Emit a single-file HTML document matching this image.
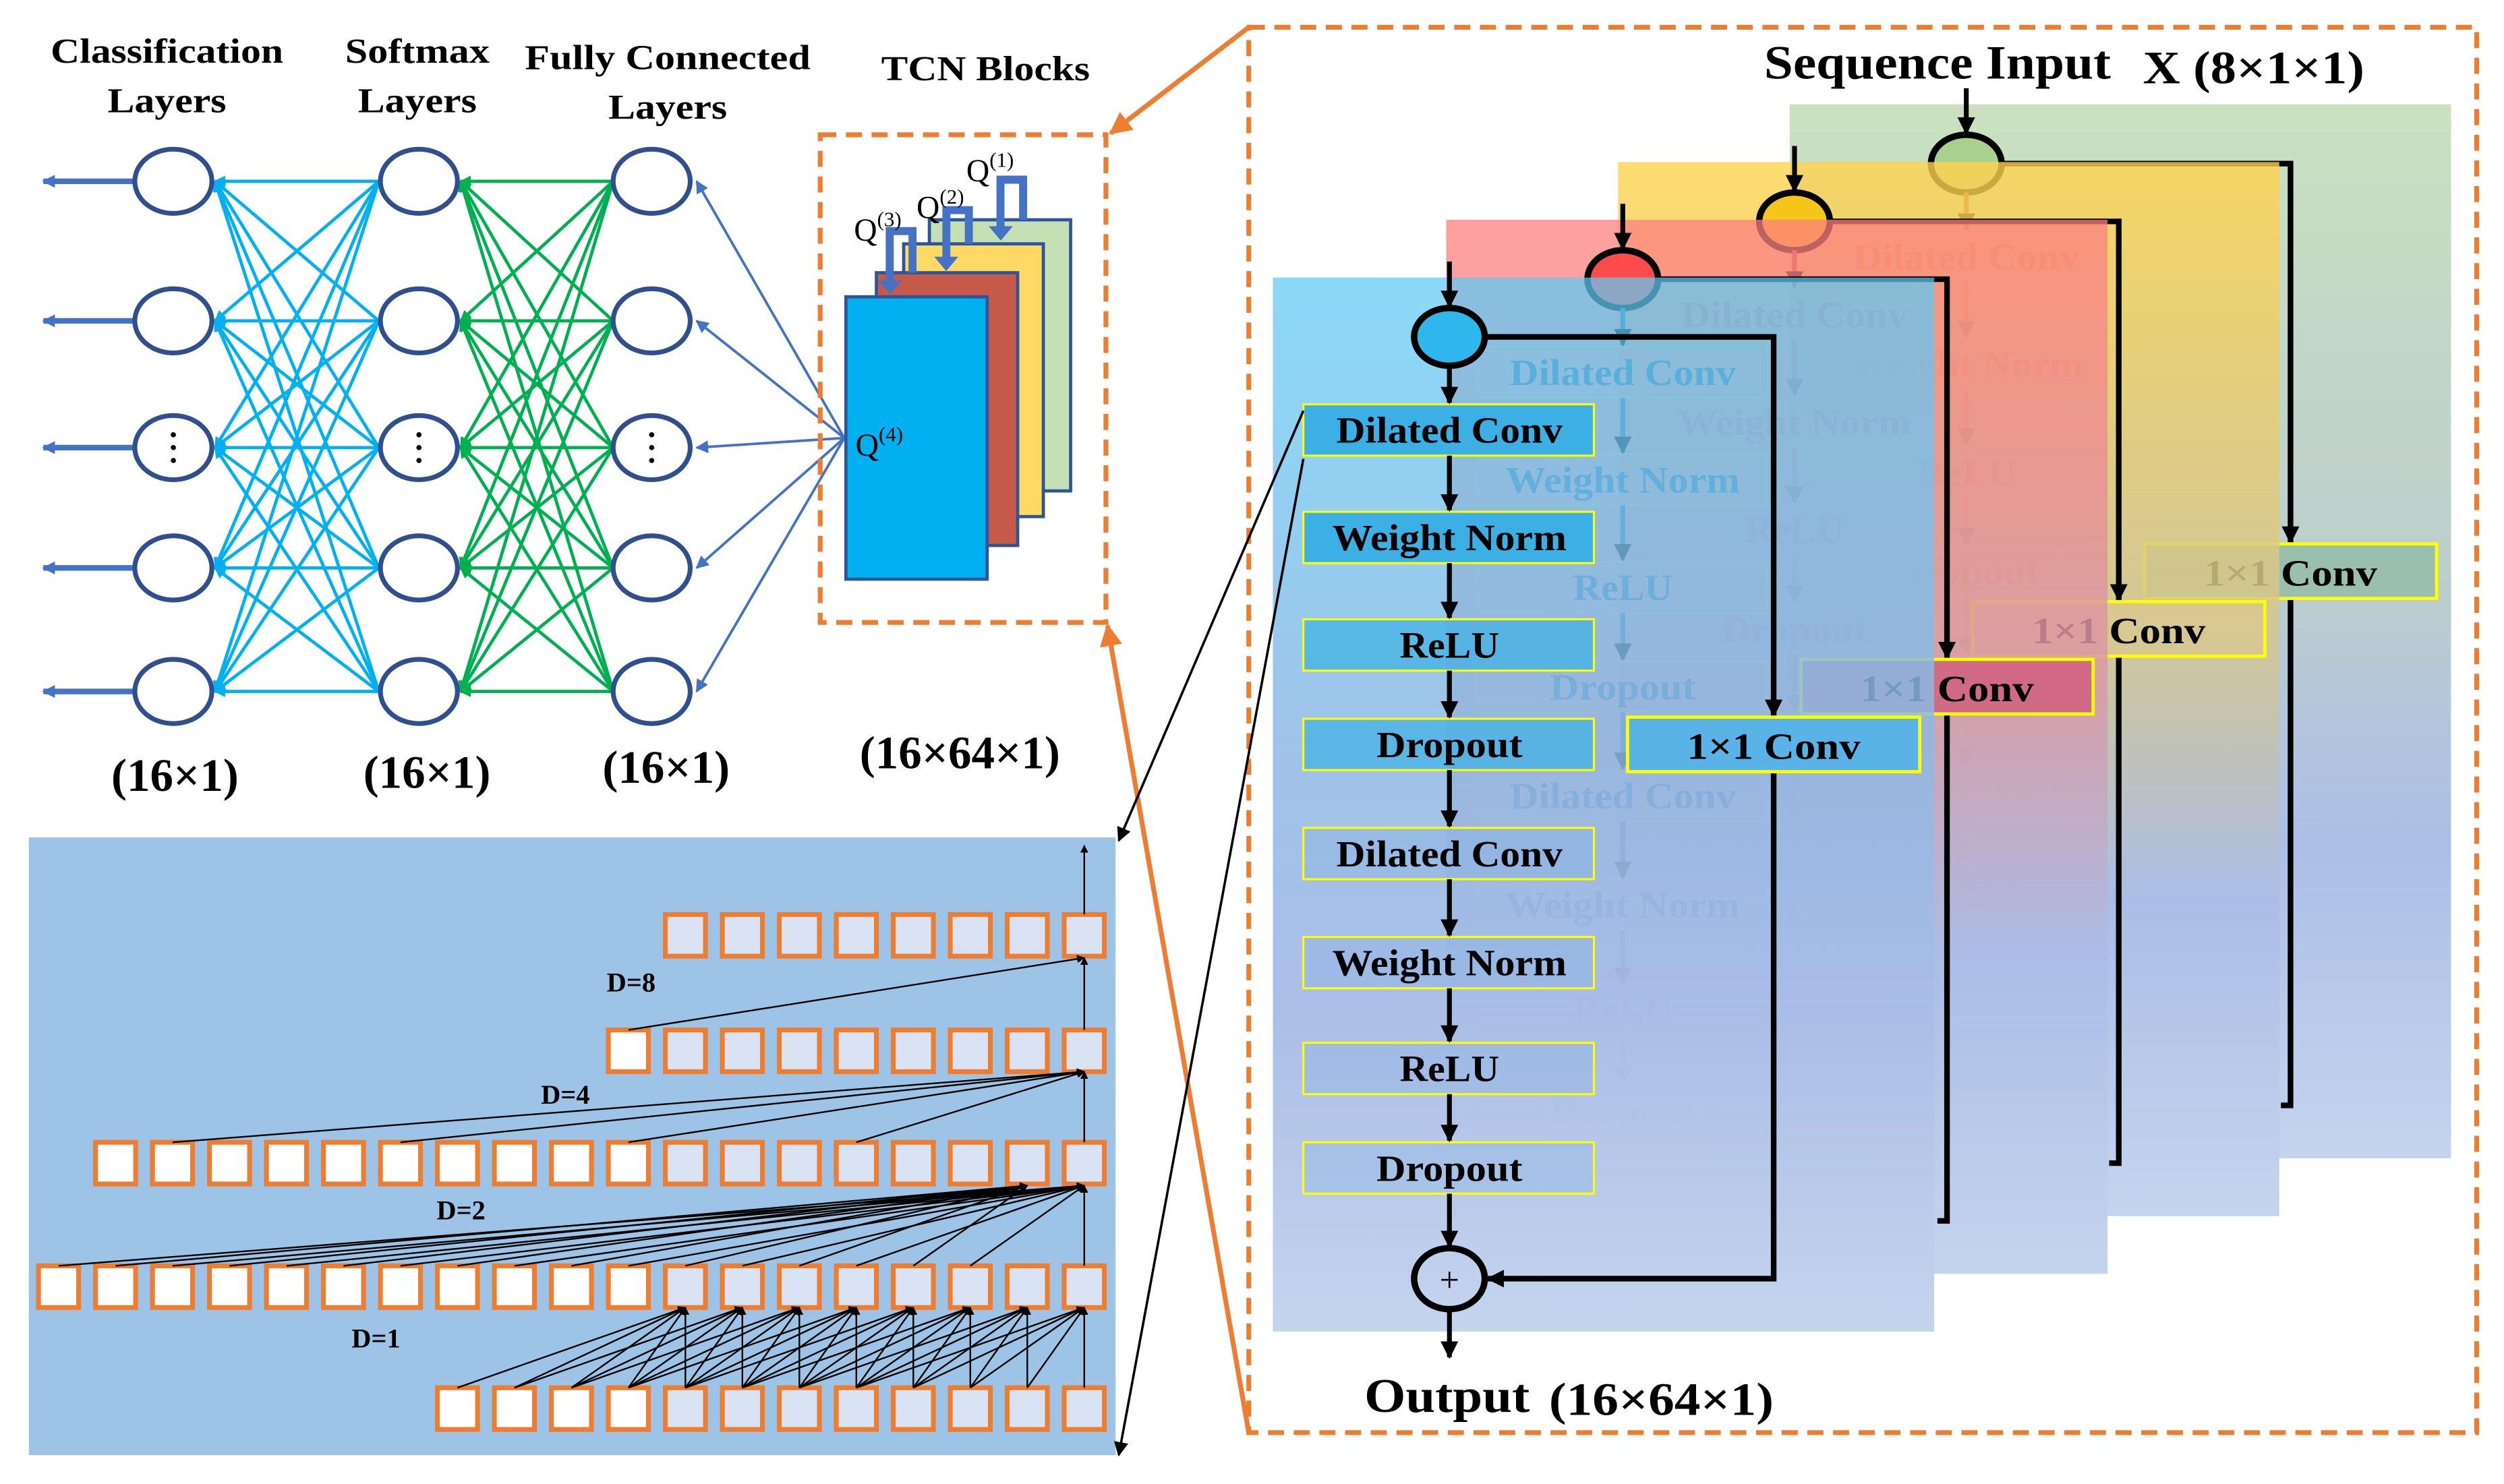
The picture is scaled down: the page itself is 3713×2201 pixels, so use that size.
<!DOCTYPE html>
<html><head><meta charset="utf-8">
<style>
html,body{margin:0;padding:0;background:#fff;}
svg{display:block;}
text{font-family:"Liberation Serif",serif;}
.b{font-weight:bold;}
</style></head>
<body>
<svg id="s" xmlns="http://www.w3.org/2000/svg" width="3713" height="2201" viewBox="0 0 1560 925" preserveAspectRatio="none">
<defs>
<marker id="ak" viewBox="0 0 10 10" refX="9" refY="5" markerWidth="5" markerHeight="5" orient="auto-start-reverse" markerUnits="userSpaceOnUse"><path d="M0,0L10,5L0,10z" fill="#000"/></marker>
<marker id="ak2" viewBox="0 0 10 10" refX="9" refY="5" markerWidth="11" markerHeight="11" orient="auto" markerUnits="userSpaceOnUse"><path d="M0,0L10,5L0,10z" fill="#000"/></marker>
<marker id="ak3" viewBox="0 0 10 10" refX="9" refY="5" markerWidth="9" markerHeight="9" orient="auto" markerUnits="userSpaceOnUse"><path d="M0,0L10,5L0,10z" fill="#000"/></marker>
<marker id="ac" viewBox="0 0 10 10" refX="9" refY="5" markerWidth="7" markerHeight="7" orient="auto" markerUnits="userSpaceOnUse"><path d="M0,0L10,5L0,10z" fill="#00b0f0"/></marker>
<marker id="ag" viewBox="0 0 10 10" refX="9" refY="5" markerWidth="7" markerHeight="7" orient="auto" markerUnits="userSpaceOnUse"><path d="M0,0L10,5L0,10z" fill="#00b050"/></marker>
<marker id="ab" viewBox="0 0 10 10" refX="9" refY="5" markerWidth="8" markerHeight="8" orient="auto" markerUnits="userSpaceOnUse"><path d="M0,0L10,5L0,10z" fill="#4472c4"/></marker>
<marker id="ao" viewBox="0 0 10 10" refX="9" refY="5" markerWidth="14" markerHeight="14" orient="auto" markerUnits="userSpaceOnUse"><path d="M0,0L10,5L0,10z" fill="#ed7d31"/></marker>
<linearGradient id="gB" x1="0" y1="0" x2="0" y2="1"><stop offset="0" stop-color="#5ecaf5" stop-opacity="0.72"/><stop offset="0.45" stop-color="#8fb8e4" stop-opacity="0.85"/><stop offset="0.7" stop-color="#aabde6" stop-opacity="0.98"/><stop offset="1" stop-color="#c5d4ee" stop-opacity="1"/></linearGradient>
<linearGradient id="gR" x1="0" y1="0" x2="0" y2="1"><stop offset="0" stop-color="#ff7f7f" stop-opacity="0.75"/><stop offset="0.45" stop-color="#d89aa8" stop-opacity="0.85"/><stop offset="0.7" stop-color="#aabde6" stop-opacity="0.98"/><stop offset="1" stop-color="#c5d4ee" stop-opacity="1"/></linearGradient>
<linearGradient id="gY" x1="0" y1="0" x2="0" y2="1"><stop offset="0" stop-color="#ffd34d" stop-opacity="0.8"/><stop offset="0.45" stop-color="#d4c690" stop-opacity="0.85"/><stop offset="0.7" stop-color="#aabde6" stop-opacity="0.98"/><stop offset="1" stop-color="#c5d4ee" stop-opacity="1"/></linearGradient>
<linearGradient id="gG" x1="0" y1="0" x2="0" y2="1"><stop offset="0" stop-color="#c7dfbd" stop-opacity="0.95"/><stop offset="0.45" stop-color="#b5c8c8" stop-opacity="0.9"/><stop offset="0.7" stop-color="#aabde6" stop-opacity="0.98"/><stop offset="1" stop-color="#c5d4ee" stop-opacity="1"/></linearGradient>
</defs>

<g class="b" font-size="22" text-anchor="middle" font-weight="bold">
<text x="104" y="39" textLength="145" lengthAdjust="spacingAndGlyphs">Classification</text><text x="104" y="70" textLength="74" lengthAdjust="spacingAndGlyphs">Layers</text>
<text x="260" y="39" textLength="90" lengthAdjust="spacingAndGlyphs">Softmax</text><text x="260" y="70" textLength="74" lengthAdjust="spacingAndGlyphs">Layers</text>
<text x="416" y="43" textLength="178" lengthAdjust="spacingAndGlyphs">Fully Connected</text><text x="416" y="74" textLength="74" lengthAdjust="spacingAndGlyphs">Layers</text>
<text x="614" y="50" textLength="130" lengthAdjust="spacingAndGlyphs">TCN Blocks</text>
</g>
<g font-size="29" text-anchor="middle" font-weight="bold">
<text x="109" y="493">(16×1)</text><text x="266" y="491">(16×1)</text><text x="415" y="488">(16×1)</text><text x="598" y="479">(16×64×1)</text>
</g>

<g id="nn"></g>

<rect x="511" y="84" width="178" height="304" fill="none" stroke="#ed7d31" stroke-width="3" stroke-dasharray="10,6"/>
<rect x="579" y="137" width="88" height="169" fill="#c5e0b4" stroke="#2f5597" stroke-width="2"/>
<rect x="563" y="152" width="87" height="170" fill="#ffd966" stroke="#2f5597" stroke-width="2"/>
<rect x="546" y="170" width="88" height="170" fill="#c55a4a" stroke="#2f5597" stroke-width="2"/>
<rect x="527" y="185" width="88" height="176" fill="#00b0f0" stroke="#2f5597" stroke-width="2"/>
<g fill="none" stroke="#4472c4" stroke-width="5">
<polyline points="568.5,170 568.5,144 554.3,144 554.3,176"/>
<polyline points="603.6,152 603.6,131 589.6,131 589.6,162"/>
<polyline points="637.4,137 637.4,112 623.3,112 623.3,143"/>
</g>
<g fill="#4472c4"><path d="M547,175h15l-7.5,8z"/><path d="M582,160h15l-7.5,9z"/><path d="M616,141h15l-7.5,9z"/></g>
<g font-size="20">
<text x="532" y="150">Q<tspan font-size="13" dy="-9">(3)</tspan></text>
<text x="571" y="136">Q<tspan font-size="13" dy="-9">(2)</tspan></text>
<text x="602" y="113">Q<tspan font-size="13" dy="-9">(1)</tspan></text>
<text x="533" y="284">Q<tspan font-size="13" dy="-9">(4)</tspan></text>
</g>

<line x1="778" y1="17" x2="692" y2="83" stroke="#ed7d31" stroke-width="3" marker-end="url(#ao)"/>
<line x1="778" y1="893" x2="690" y2="390" stroke="#ed7d31" stroke-width="3" marker-end="url(#ao)"/>

<rect x="18" y="522" width="677" height="385" fill="#9dc3e6"/>
<g id="cells"></g>
<g font-size="17" font-weight="bold"><text x="378" y="618">D=8</text><text x="337" y="688">D=4</text><text x="272" y="760">D=2</text><text x="219" y="840">D=1</text></g>

<rect x="778" y="17" width="765" height="876" fill="none" stroke="#ed7d31" stroke-width="3" stroke-dasharray="10,6"/>
<text x="1099" y="49" font-size="30" font-weight="bold" textLength="216" lengthAdjust="spacingAndGlyphs">Sequence Input</text>
<text x="1335" y="52" font-size="29" font-weight="bold" textLength="138" lengthAdjust="spacingAndGlyphs">X (8×1×1)</text>
<g id="blocks"></g>
<text x="850" y="880" font-size="30" font-weight="bold" textLength="103" lengthAdjust="spacingAndGlyphs">Output</text>
<text x="965" y="882" font-size="29" font-weight="bold" textLength="140" lengthAdjust="spacingAndGlyphs">(16×64×1)</text>

<line x1="812" y1="256" x2="697" y2="524" stroke="#000" stroke-width="1.5" marker-end="url(#ak3)"/>
<line x1="812" y1="286" x2="697" y2="907" stroke="#000" stroke-width="1.5" marker-end="url(#ak3)"/>
</svg>
<script>
var NS="http://www.w3.org/2000/svg";
function el(p,t,a,txt){var e=document.createElementNS(NS,t);for(var k in a)e.setAttribute(k,a[k]);if(txt!=null)e.textContent=txt;p.appendChild(e);return e;}
var nn=document.getElementById("nn");
var ys=[113,200,279,354,431],xs=[108,261,406];
for(var i=0;i<5;i++)for(var j=0;j<5;j++){
 el(nn,"line",{x1:236,y1:ys[i],x2:134,y2:ys[j],stroke:"#00b0f0","stroke-width":2,"marker-end":"url(#ac)"});
 el(nn,"line",{x1:382,y1:ys[i],x2:287,y2:ys[j],stroke:"#00b050","stroke-width":2,"marker-end":"url(#ag)"});
}
for(var i=0;i<5;i++){
 el(nn,"line",{x1:526,y1:273,x2:434,y2:ys[i],stroke:"#4472c4","stroke-width":1.6,"marker-end":"url(#ab)"});
 el(nn,"line",{x1:84,y1:ys[i],x2:27,y2:ys[i],stroke:"#4472c4","stroke-width":3.5,"marker-end":"url(#ab)"});
 for(var c=0;c<3;c++){
  el(nn,"ellipse",{cx:xs[c],cy:ys[i],rx:24,ry:20,fill:"#fff",stroke:"#2f4f8f","stroke-width":3});
  if(i==2){for(var d=-1;d<=1;d++)el(nn,"circle",{cx:xs[c],cy:279+d*8,r:1.6,fill:"#000"});}
 }
}
var cg=document.getElementById("cells");
var rowY=[570,642,712,789,865];
function cx(k){return 663-35.5*k;}
var rows=[{n:8,w:-1},{n:9,w:8},{n:18,w:8},{n:19,w:8},{n:12,w:8}];
var lines=document.createElementNS(NS,"g");
function ln(x1,y1,x2,y2,m){el(lines,"line",{x1:x1,y1:y1,x2:x2,y2:y2,stroke:"#000","stroke-width":1,"marker-end":"url(#"+(m||"ak")+")"});}
for(var k=0;k<8;k++)for(var s=0;s<=4;s++){var kk=k+s;if(kk>11)continue;ln(cx(kk)+12.5,865,cx(k)+12.5,815);}
for(var k=0;k<=18;k+=2)ln(cx(k)+12.5,789,cx(0)+12.5,739,"ak");
for(var k=3;k<=17;k+=2)ln(cx(k)+12.5,789,cx(1)+12.5,739,"ak");
for(var k=0;k<=16;k+=4)ln(cx(k)+12.5,712,cx(0)+12.5,668,"ak");
ln(cx(8)+12.5,642,cx(0)+12.5,597,"ak");ln(cx(0)+12.5,642,cx(0)+12.5,597,"ak");
ln(cx(0)+12.5,570,cx(0)+12.5,527,"ak");
for(var r=0;r<5;r++)for(var k=0;k<rows[r].n;k++){
 el(cg,"rect",{x:cx(k),y:rowY[r],width:25,height:26,fill:(rows[r].w>=0&&k>=rows[r].w)?"#fff":"#dae3f3",stroke:"#ed7d31","stroke-width":3});
}
cg.appendChild(lines);
var bg=document.getElementById("blocks");
var B=[{dx:322,dy:-108,g:"gG",c:"#a9d08e",t:"#b8502a"},{dx:215,dy:-72,g:"gY",c:"#f5c518",t:"#c0504d"},{dx:108,dy:-36,g:"gR",c:"#ff4b4b",t:"#2e6b9a"},{dx:0,dy:0,g:"gB",c:"#2fb7ec",t:"#000"}];
var labels=["Dilated Conv","Weight Norm","ReLU","Dropout","Dilated Conv","Weight Norm","ReLU","Dropout"];
var lw=[141,146,62,91,141,146,62,91];
var by=[252,319,386,448,516,584,650,712];
B.forEach(function(b,bi){
 var g=el(bg,"g",{});var dx=b.dx,dy=b.dy,front=bi==3;
 el(g,"rect",{x:793+dx,y:173+dy,width:412,height:657,fill:"url(#"+b.g+")"});
 var X=903+dx;
 el(g,"line",{x1:X,y1:163+dy,x2:X,y2:191+dy,stroke:"#000","stroke-width":3,"marker-end":"url(#ak2)"});
 el(g,"ellipse",{cx:X,cy:210+dy,rx:22,ry:18,fill:b.c,stroke:"#000","stroke-width":4});
 el(g,"polyline",{points:(X+22)+","+(210+dy)+" "+(1105+dx)+","+(210+dy)+" "+(1105+dx)+","+(446+dy),fill:"none",stroke:"#000","stroke-width":3.5});
 el(g,"line",{x1:1105+dx,y1:430+dy,x2:1105+dx,y2:446+dy,stroke:"#000","stroke-width":3,"marker-end":"url(#ak2)"});
 if(front){
  el(g,"polyline",{points:(1105+dx)+","+(481+dy)+" "+(1105+dx)+","+(797+dy)+" "+(X+24)+","+(797+dy),fill:"none",stroke:"#000","stroke-width":3.5,"marker-end":"url(#ak2)"});
 } else {
  el(g,"polyline",{points:(1105+dx)+","+(481+dy)+" "+(1105+dx)+","+(797+dy)+" "+(1099+dx)+","+(797+dy),fill:"none",stroke:"#000","stroke-width":3.5});
 }
 for(var i=0;i<8;i++){
  var fill=front?(i<2?"#3cb0e4":i<4?"rgba(60,176,228,0.7)":"rgba(120,170,225,0.25)"):"rgba(255,255,255,0.05)";
  el(g,"rect",{x:812+dx,y:by[i]+dy,width:181,height:32,fill:fill,stroke:front?"#ffff00":"rgba(180,230,150,0.5)","stroke-width":1.3});
  el(g,"text",{x:X,y:by[i]+dy+24,"text-anchor":"middle","font-size":23,"font-weight":"bold",fill:b.t,textLength:lw[i],lengthAdjust:"spacingAndGlyphs"},labels[i]);
  var y0=(i==0?228:by[i-1]+32)+dy,y1=by[i]+dy;
  el(g,"line",{x1:X,y1:y0,x2:X,y2:y1-1,stroke:b.t,"stroke-width":3,"marker-end":"url(#ak2)"});
 }
 if(front){
  el(g,"line",{x1:X,y1:744,x2:X,y2:777,stroke:"#000","stroke-width":3,"marker-end":"url(#ak2)"});
  el(g,"ellipse",{cx:X,cy:797,rx:22,ry:19,fill:"none",stroke:"#000","stroke-width":4});
  el(g,"text",{x:X,y:805,"text-anchor":"middle","font-size":22},"+");
  el(g,"line",{x1:X,y1:816,x2:X,y2:846,stroke:"#000","stroke-width":3,"marker-end":"url(#ak2)"});
 }
 el(g,"rect",{x:1014+dx,y:447+dy,width:182,height:34,fill:front?"#5ab3e6":(bi==2?"#d06a85":bi==1?"rgba(220,200,140,0.6)":"rgba(150,190,170,0.9)"),stroke:"#ffff00","stroke-width":2});
 el(g,"text",{x:1105+dx,y:473+dy,"text-anchor":"middle","font-size":23,"font-weight":"bold",fill:"#000",textLength:108,lengthAdjust:"spacingAndGlyphs"},"1×1 Conv");
});
</script>
</body></html>
